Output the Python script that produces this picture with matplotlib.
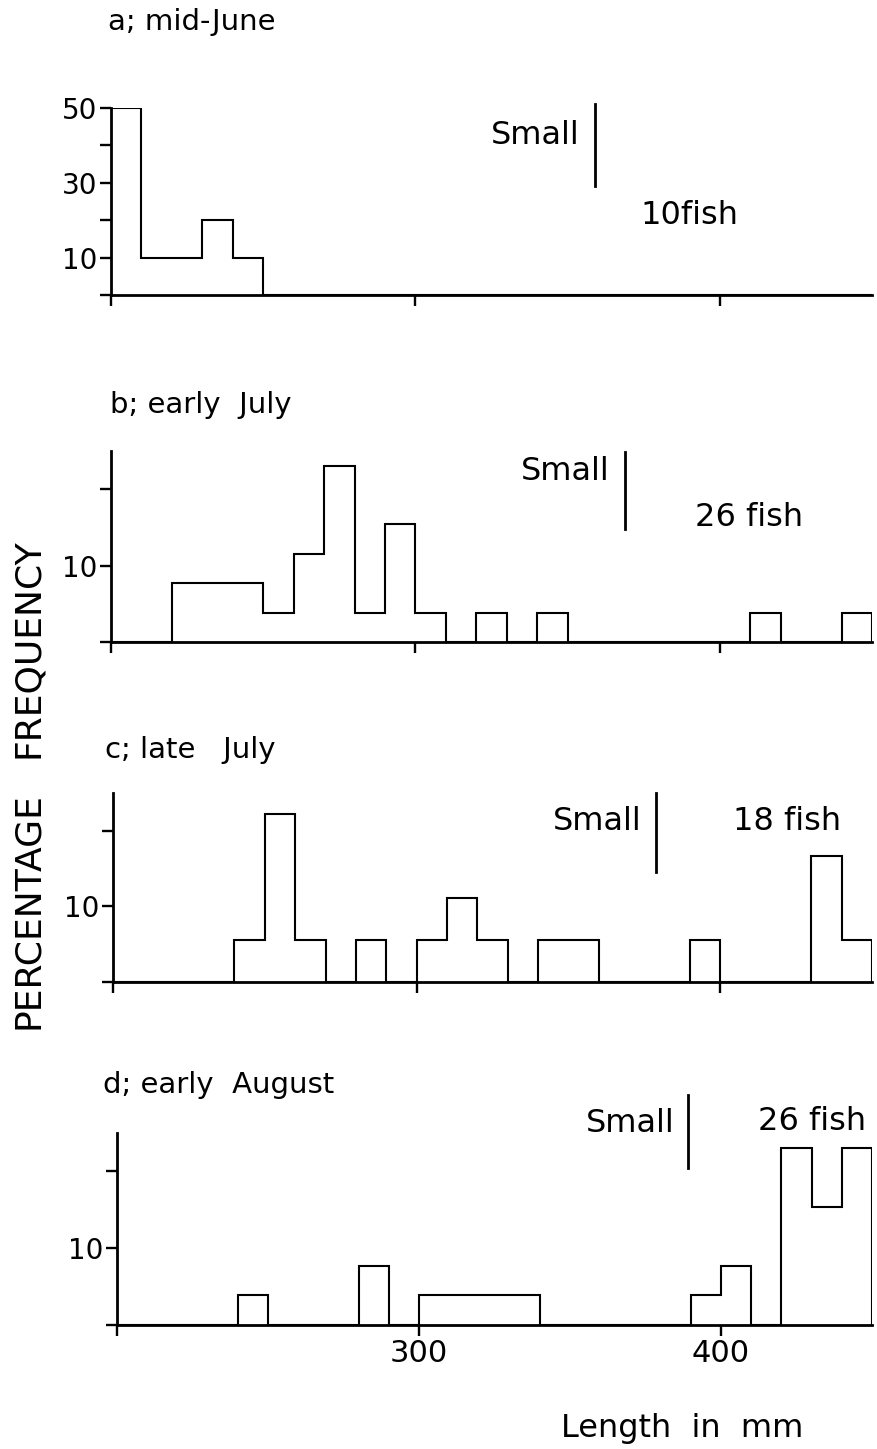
import numpy as np
import matplotlib
matplotlib.use("Agg")
import matplotlib.pyplot as plt

plt.rcParams['font.family'] = ['DejaVu Sans']

# 10 mm length classes, 200-450 mm
edges = np.arange(200, 460, 10)

# fish counts per class (class start in mm -> number of fish)
bins_a = [200, 210, 220, 230, 240]
counts_a = [5, 1, 1, 2, 1]
bins_b = [220, 230, 240, 250, 260, 270, 280, 290, 300, 320, 340, 410, 440]
counts_b = [2, 2, 2, 1, 3, 6, 1, 4, 1, 1, 1, 1, 1]
bins_c = [240, 250, 260, 280, 300, 310, 320, 340, 350, 390, 430, 440]
counts_c = [1, 4, 1, 1, 1, 2, 1, 1, 1, 1, 3, 1]
bins_d = [240, 280, 300, 310, 320, 330, 390, 400, 420, 430, 440]
counts_d = [1, 2, 1, 1, 1, 1, 1, 2, 6, 4, 6]

titles = ["a; mid-June", "b; early  July", "c; late   July", "d; early  August"]
n_fish = [10, 26, 18, 26]
fish_labels = ["10fish", "26 fish", "18 fish", "26 fish"]
small_cut = [359, 369, 379, 389]

W, H = 878, 1449


def px(x, y):
    return x / W, 1 - y / H


def percent(bins, counts, n):
    freq = np.zeros(len(edges) - 1)
    for b, c in zip(bins, counts):
        freq[(b - 200) // 10] = c
    return freq / n * 100


panels = [
    dict(bins=bins_a, counts=counts_a, top=50, yticks=[0, 10, 20, 30, 40, 50],
         ylabels=["", "10", "", "30", "", "50"], box=(111, 295, 108),
         title_xy=(108, 22), small_xy=(580, 135), line_y=(51, 29.2), fish_xy=(640, 215)),
    dict(bins=bins_b, counts=counts_b, top=25, yticks=[0, 10, 20],
         ylabels=["", "10", ""], box=(111, 642, 451),
         title_xy=(110, 405), small_xy=(610, 472), line_y=(24.9, 14.8), fish_xy=(695, 518)),
    dict(bins=bins_c, counts=counts_c, top=25, yticks=[0, 10, 20],
         ylabels=["", "10", ""], box=(113, 982, 793),
         title_xy=(105, 750), small_xy=(642, 822), line_y=(25, 14.6), fish_xy=(733, 822)),
    dict(bins=bins_d, counts=counts_d, top=25, yticks=[0, 10, 20],
         ylabels=["", "10", ""], box=(117, 1325, 1133),
         title_xy=(103, 1085), small_xy=(675, 1123), line_y=(30, 20.4), fish_xy=(758, 1122)),
]

fig = plt.figure(figsize=(8.78, 14.49), dpi=100)

for i, p in enumerate(panels):
    x0, ybot, ytop = p["box"]
    left, bottom = px(x0, ybot)
    ax = fig.add_axes([left, bottom, (872 - x0) / W, (ybot - ytop) / H])

    values = percent(p["bins"], p["counts"], n_fish[i])
    ax.stairs(values, edges, baseline=0, fill=False, color="black", lw=1.5)

    ax.set_xlim(200, 450)
    ax.set_ylim(0, p["top"])
    for side in ["top", "right"]:
        ax.spines[side].set_visible(False)
    for side in ["left", "bottom"]:
        ax.spines[side].set_linewidth(2.0)

    ax.set_yticks(p["yticks"])
    ax.set_yticklabels(p["ylabels"], fontsize=20)
    ax.set_xticks([200, 300, 400])
    if i == 3:
        ax.set_xticklabels(["", "300", "400"], fontsize=22)
    else:
        ax.set_xticklabels([])
    ax.tick_params(direction="out", length=8, width=1.7, pad=2)

    # "Small" boundary marker
    cut = small_cut[i]
    ax.plot([cut, cut], p["line_y"], color="black", lw=2.0, clip_on=False)
    sx, sy = p["small_xy"]
    fig.text(*px(sx, sy), "Small", ha="right", va="center", fontsize=23)
    fx, fy = p["fish_xy"]
    fig.text(*px(fx, fy), fish_labels[i], ha="left", va="center", fontsize=23)

    tx, ty = p["title_xy"]
    fig.text(*px(tx, ty), titles[i], ha="left", va="center", fontsize=21)

fig.text(*px(28, 911), "PERCENTAGE", rotation=90, ha="center", va="center", fontsize=26)
fig.text(*px(28, 648), "FREQUENCY", rotation=90, ha="center", va="center", fontsize=26)
fig.text(*px(682, 1428), "Length  in  mm", ha="center", va="center", fontsize=23)

fig.savefig("out.png", dpi=100)
